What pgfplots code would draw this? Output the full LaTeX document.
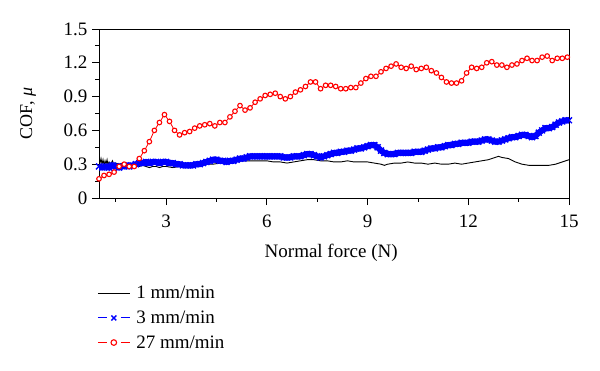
\documentclass[border=0pt]{standalone}
\usepackage{fontspec}
\setmainfont{Liberation Serif}
\usepackage{pgfplots}
\pgfplotsset{compat=1.18}
\begin{document}
\begin{tikzpicture}
\path[use as bounding box] (0,0) rectangle (600bp,371bp);
\begin{axis}[
 at={(99bp,173bp)}, anchor=south west,
 scale only axis, width=470bp, height=169bp,
 xmin=1, xmax=15, ymin=0, ymax=1.5,
 xtick={3,6,9,12,15}, minor xtick={1.5,4.5,7.5,10.5,13.5},
 ytick={0,0.3,0.6,0.9,1.2,1.5}, minor ytick={0.15,0.45,0.75,1.05,1.35},
 tick pos=left, tick align=outside,
 major tick length=7bp, minor tick length=4bp,
 every tick/.style={black, line width=0.8bp},
 axis line style={line width=0.8bp},
 /pgf/number format/assume math mode=true,
 ticklabel style={font=\fontsize{19bp}{22bp}\selectfont},
 xticklabel style={yshift=-6bp},
 yticklabel style={/pgf/number format/fixed, /pgf/number format/precision=1, xshift=-1bp},
 xlabel={Normal force (N)}, ylabel={COF, \textit{μ}},
 xlabel style={font=\fontsize{19bp}{22bp}\selectfont, at={(axis description cs:0.494,-0.322)}, anchor=center},
 ylabel style={font=\fontsize{18bp}{21bp}\selectfont, at={(axis description cs:-0.151,0.5)}, anchor=center},
 legend style={at={(axis description cs:-0.004,-0.51)}, anchor=north west, draw=none, fill=none, inner sep=0pt,
   font=\fontsize{19bp}{22bp}\selectfont, row sep=6.5bp,
   /tikz/every odd column/.append style={column sep=4bp}},
 legend cell align=left,
]
\addplot[black, line width=0.9bp, mark=none,
 legend image code/.code={\draw[black,line width=0.9bp] (0bp,0bp)--(32bp,0bp);}]
coordinates {(1.00,0.36)(1.03,0.31)(1.06,0.35)(1.09,0.30)(1.12,0.34)(1.15,0.29)(1.18,0.33)(1.21,0.30)(1.24,0.34)(1.27,0.29)(1.30,0.32)(1.35,0.30)(1.40,0.33)(1.45,0.29)(1.50,0.31)(1.60,0.30)(1.70,0.31)(1.80,0.29)(1.90,0.30)(2.00,0.28)(2.10,0.29)(2.20,0.28)(2.30,0.29)(2.40,0.28)(2.50,0.27)(2.60,0.28)(2.70,0.28)(2.80,0.27)(2.90,0.28)(3.00,0.28)(3.20,0.27)(3.40,0.28)(3.50,0.27)(3.60,0.28)(3.80,0.28)(4.00,0.29)(4.20,0.30)(4.40,0.30)(4.60,0.31)(4.80,0.31)(5.00,0.32)(5.20,0.33)(5.40,0.33)(5.60,0.33)(5.80,0.33)(6.00,0.33)(6.20,0.32)(6.40,0.32)(6.60,0.31)(6.80,0.32)(7.00,0.33)(7.20,0.34)(7.40,0.34)(7.60,0.33)(7.80,0.33)(8.00,0.32)(8.20,0.32)(8.40,0.33)(8.60,0.32)(8.80,0.32)(9.00,0.32)(9.20,0.31)(9.40,0.30)(9.50,0.29)(9.60,0.30)(9.80,0.31)(10.00,0.31)(10.20,0.32)(10.40,0.31)(10.60,0.31)(10.80,0.30)(11.00,0.31)(11.20,0.30)(11.40,0.30)(11.60,0.31)(11.80,0.30)(12.00,0.31)(12.20,0.32)(12.40,0.33)(12.60,0.34)(12.80,0.36)(12.90,0.37)(13.00,0.36)(13.20,0.35)(13.40,0.32)(13.60,0.30)(13.80,0.29)(14.00,0.29)(14.20,0.29)(14.40,0.29)(14.60,0.30)(14.80,0.32)(15.00,0.34)};
\addlegendentry{1 mm/min}
\addplot[blue, line width=6bp, mark=x, mark size=4.2bp, mark options={line width=1.4bp},
 legend image code/.code={\draw[blue,line width=1bp] (0bp,0bp)--(9bp,0bp) (23bp,0bp)--(32bp,0bp);
   \draw[blue,line width=1bp] plot[mark=x,mark size=3.5bp] coordinates {(16bp,0bp)};}]
coordinates {(1.0,0.28)(1.1,0.27)(1.2,0.28)(1.3,0.27)(1.4,0.29)(1.5,0.28)(1.6,0.27)(1.7,0.28)(1.8,0.29)(1.9,0.28)(2.0,0.29)(2.1,0.30)(2.2,0.31)(2.3,0.31)(2.4,0.32)(2.5,0.31)(2.6,0.32)(2.7,0.32)(2.8,0.31)(2.9,0.32)(3.0,0.32)(3.1,0.31)(3.2,0.31)(3.3,0.30)(3.4,0.30)(3.5,0.29)(3.6,0.29)(3.7,0.29)(3.8,0.29)(3.9,0.30)(4.0,0.30)(4.1,0.31)(4.2,0.32)(4.3,0.33)(4.4,0.34)(4.5,0.34)(4.6,0.33)(4.7,0.33)(4.8,0.32)(4.9,0.33)(5.0,0.33)(5.1,0.34)(5.2,0.35)(5.3,0.35)(5.4,0.36)(5.5,0.37)(5.6,0.37)(5.7,0.37)(5.8,0.37)(5.9,0.37)(6.0,0.37)(6.1,0.37)(6.2,0.37)(6.3,0.37)(6.4,0.37)(6.5,0.36)(6.6,0.36)(6.7,0.36)(6.8,0.37)(6.9,0.37)(7.0,0.37)(7.1,0.38)(7.2,0.39)(7.3,0.39)(7.4,0.38)(7.5,0.37)(7.6,0.36)(7.7,0.37)(7.8,0.38)(7.9,0.39)(8.0,0.40)(8.1,0.40)(8.2,0.41)(8.3,0.41)(8.4,0.42)(8.5,0.42)(8.6,0.43)(8.7,0.44)(8.8,0.44)(8.9,0.45)(9.0,0.46)(9.1,0.47)(9.2,0.47)(9.3,0.45)(9.4,0.42)(9.5,0.40)(9.6,0.39)(9.7,0.39)(9.8,0.39)(9.9,0.40)(10.0,0.40)(10.1,0.40)(10.2,0.40)(10.3,0.40)(10.4,0.41)(10.5,0.41)(10.6,0.41)(10.7,0.42)(10.8,0.43)(10.9,0.44)(11.0,0.44)(11.1,0.45)(11.2,0.45)(11.3,0.46)(11.4,0.47)(11.5,0.47)(11.6,0.48)(11.7,0.48)(11.8,0.49)(11.9,0.49)(12.0,0.49)(12.1,0.50)(12.2,0.50)(12.3,0.50)(12.4,0.51)(12.5,0.52)(12.6,0.52)(12.7,0.51)(12.8,0.50)(12.9,0.50)(13.0,0.51)(13.1,0.52)(13.2,0.53)(13.3,0.54)(13.4,0.54)(13.5,0.55)(13.6,0.56)(13.7,0.56)(13.8,0.55)(13.9,0.54)(14.0,0.55)(14.1,0.58)(14.2,0.60)(14.3,0.62)(14.4,0.62)(14.5,0.63)(14.6,0.65)(14.7,0.67)(14.8,0.68)(14.9,0.69)(15.0,0.69)};
\addlegendentry{3 mm/min}
\addplot[red, line width=0.8bp, mark=*, mark size=2.3bp, mark options={fill=white, line width=1.1bp},
 legend image code/.code={\draw[red,line width=1bp] (0bp,0bp)--(9bp,0bp) (23bp,0bp)--(32bp,0bp);
   \draw[red,line width=1.1bp] plot[mark=*,mark size=2.8bp,mark options={fill=white}] coordinates {(16bp,0bp)};}]
coordinates {(1.00,0.17)(1.15,0.20)(1.30,0.21)(1.45,0.23)(1.60,0.28)(1.75,0.30)(1.90,0.28)(2.05,0.28)(2.20,0.35)(2.35,0.42)(2.50,0.50)(2.65,0.60)(2.80,0.67)(2.95,0.74)(3.10,0.68)(3.25,0.60)(3.40,0.56)(3.55,0.58)(3.70,0.59)(3.85,0.62)(4.00,0.64)(4.15,0.65)(4.30,0.66)(4.45,0.64)(4.60,0.67)(4.75,0.67)(4.90,0.72)(5.05,0.77)(5.20,0.82)(5.35,0.78)(5.50,0.80)(5.65,0.85)(5.80,0.88)(5.95,0.91)(6.10,0.92)(6.25,0.93)(6.40,0.90)(6.55,0.88)(6.70,0.90)(6.85,0.94)(7.00,0.96)(7.15,0.99)(7.30,1.03)(7.45,1.03)(7.60,0.97)(7.75,1.00)(7.90,1.00)(8.05,0.99)(8.20,0.97)(8.35,0.97)(8.50,0.98)(8.65,0.98)(8.80,1.02)(8.95,1.06)(9.10,1.08)(9.25,1.08)(9.40,1.12)(9.55,1.15)(9.70,1.17)(9.85,1.19)(10.00,1.16)(10.15,1.15)(10.30,1.17)(10.45,1.14)(10.60,1.15)(10.75,1.16)(10.90,1.13)(11.05,1.11)(11.20,1.07)(11.35,1.03)(11.50,1.02)(11.65,1.02)(11.80,1.04)(11.95,1.11)(12.10,1.16)(12.25,1.15)(12.40,1.16)(12.55,1.20)(12.70,1.21)(12.85,1.18)(13.00,1.18)(13.15,1.16)(13.30,1.18)(13.45,1.19)(13.60,1.22)(13.75,1.24)(13.90,1.22)(14.05,1.22)(14.20,1.25)(14.35,1.26)(14.50,1.22)(14.65,1.24)(14.80,1.24)(14.95,1.25)};
\addlegendentry{27 mm/min}
\end{axis}
\end{tikzpicture}
\end{document}
